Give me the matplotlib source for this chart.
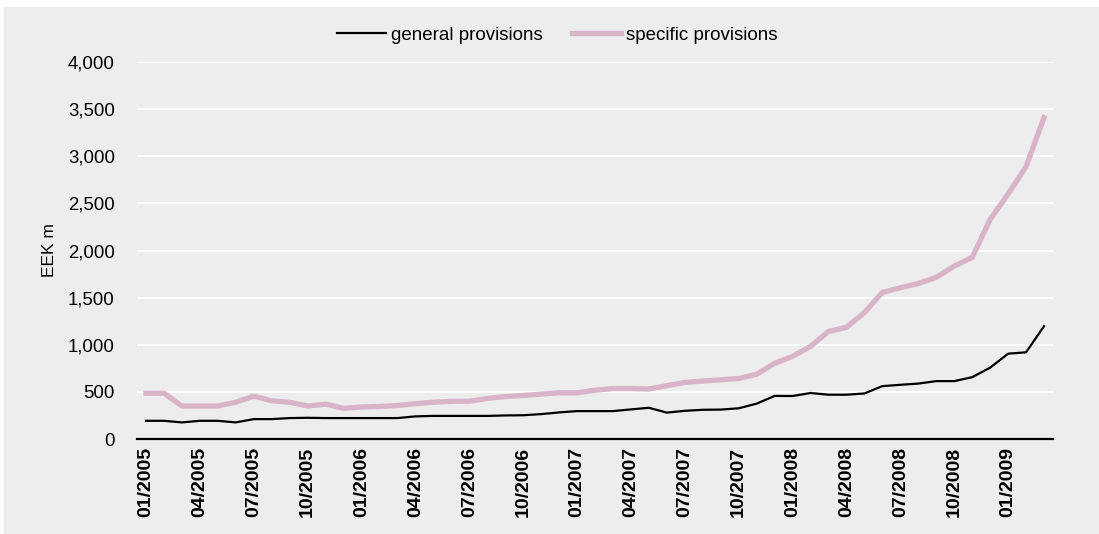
import matplotlib
matplotlib.use('Agg')
import matplotlib.pyplot as plt
from matplotlib.patches import Rectangle
from matplotlib.ticker import FuncFormatter

plt.rcParams['font.family'] = ['Liberation Sans', 'DejaVu Sans']

# monthly stock of loan provisions, 01/2005 - 03/2009 (EEK m)
months = [f"{m:02d}/{y}" for y in range(2005, 2010) for m in range(1, 13)][:51]

general = [193, 193, 176, 193, 193, 176, 211, 211, 222, 225,
           222, 222, 222, 222, 222, 240, 245, 245, 245, 245,
           250, 252, 264, 282, 296, 296, 296, 314, 331, 280,
           299, 310, 312, 326, 375, 457, 456, 488, 470, 470,
           483, 561, 575, 588, 614, 614, 656, 757, 905, 920,
           1197]

specific = [485, 485, 350, 350, 350, 390, 455, 405, 390, 350,
            370, 325, 340, 345, 355, 375, 390, 400, 400, 430,
            450, 462, 476, 490, 490, 518, 535, 535, 530, 565,
            600, 615, 628, 642, 687, 803, 877, 983, 1142, 1184,
            1342, 1555, 1605, 1650, 1715, 1835, 1927, 2330, 2600, 2890,
            3410]

bg = '#ECEDEC'
pink = '#D9B4C8'

fig = plt.figure(figsize=(10.99, 5.34), dpi=100)
fig.patches.append(Rectangle((4 / 1099, 0), 1, 1 - 7 / 534,
                             transform=fig.transFigure, facecolor=bg,
                             edgecolor='none', zorder=-10))

ax = fig.add_axes([137 / 1099, 1 - 439 / 534, (1053 - 137) / 1099, (439 - 62) / 534])
ax.set_facecolor(bg)

x = list(range(len(months)))
ax.plot(x, general, color='black', lw=1.6, label='general provisions', zorder=3)
ax.plot(x, specific, color=pink, lw=3.8, label='specific provisions', zorder=2)

ax.set_xlim(-0.5, len(months) - 0.5)
ax.set_ylim(0, 4000)
ax.set_yticks(range(0, 4001, 500))
ax.yaxis.set_major_formatter(FuncFormatter(lambda v, p: f"{int(v):,}"))
ax.grid(axis='y', color='white', lw=1.3)
ax.set_axisbelow(True)

ax.set_xticks(x[::3])
ax.set_xticklabels(months[::3], rotation=90, fontweight='bold', fontsize=14)
ax.tick_params(axis='x', length=0, pad=6)
ax.tick_params(axis='y', length=0, pad=16, labelsize=13.4)

for s in ['top', 'right', 'left']:
    ax.spines[s].set_visible(False)
ax.spines['bottom'].set_color('black')
ax.spines['bottom'].set_linewidth(1.6)

ax.set_ylabel('EEK m', fontsize=12.5, labelpad=8)

fig.legend(loc='center', bbox_to_anchor=(0.507, 1 - 35 / 534), ncol=2,
           frameon=False, fontsize=13.5, handlelength=2.6, handletextpad=0.27,
           columnspacing=1.6)

fig.savefig('out.png', dpi=100, facecolor='white')
